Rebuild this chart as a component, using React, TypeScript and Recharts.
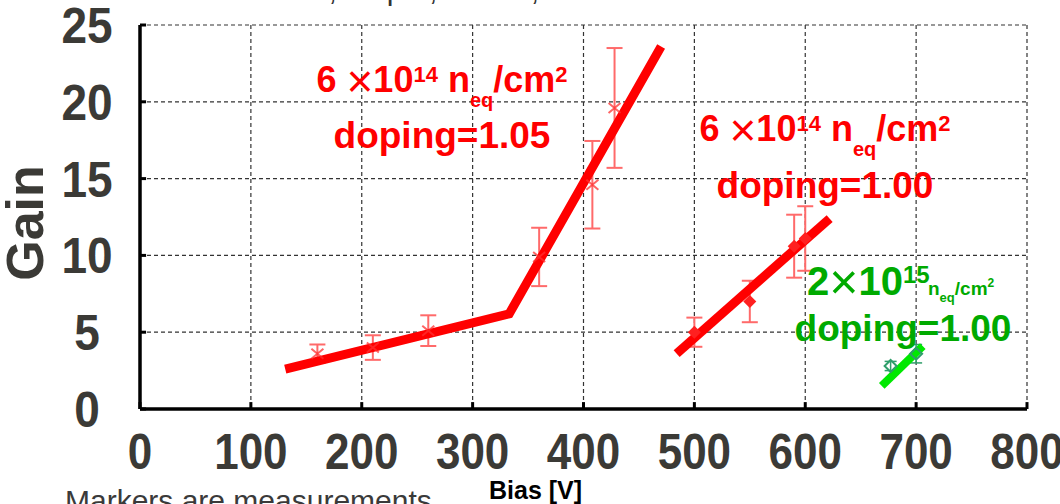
import React from 'react';
import {
  ComposedChart,
  Scatter,
  Line,
  XAxis,
  YAxis,
  CartesianGrid,
  ErrorBar,
  ReferenceLine,
} from 'recharts';

// Axis ticks
const xTicks = [0, 100, 200, 300, 400, 500, 600, 700, 800];
const yTicks = [0, 5, 10, 15, 20, 25];

// 6×10^14 neq/cm², doping = 1.05 : measurements and fit
const biasA = [160, 210, 260, 360, 408, 428];
const gainA = [3.6, 4.0, 5.1, 9.9, 14.6, 19.6];
const errA = [0.6, 0.8, 1.0, 1.9, 2.85, 3.9];
const fitBiasA = [131, 333, 470];
const fitGainA = [2.6, 6.2, 23.6];

// 6×10^14 neq/cm², doping = 1.00 : measurements and fit
const biasB = [500, 550, 590, 600];
const gainB = [5.0, 7.0, 10.6, 11.1];
const errB = [0.95, 1.35, 2.05, 2.1];
const fitBiasB = [484, 622];
const fitGainB = [3.6, 12.4];

// 2×10^15 neq/cm², doping = 1.00 : measurements and fit
const biasC = [677, 700];
const gainC = [2.8, 3.6];
const errC = [0.3, 0.6];
const fitBiasC = [669, 706];
const fitGainC = [1.5, 4.1];

const toPoints = (xs: number[], ys: number[], errs?: number[]) =>
  xs.map((x, i) => ({ x, y: ys[i], err: errs ? errs[i] : 0 }));

const pointsA = toPoints(biasA, gainA, errA);
const pointsB = toPoints(biasB, gainB, errB);
const pointsC = toPoints(biasC, gainC, errC);
const fitA = toPoints(fitBiasA, fitGainA);
const fitB = toPoints(fitBiasB, fitGainB);
const fitC = toPoints(fitBiasC, fitGainC);

const FONT = '"Liberation Sans", Arial, Helvetica, sans-serif';
const TICK_COLOR = '#3b3a36';
const RED = '#ff0000';
const GREEN = '#00aa00';

const XTick = (props: any) => {
  const { x, y, payload } = props;
  return (
    <text
      transform={`translate(${x},${y + 60}) scale(1,1.14)`}
      textAnchor="middle"
      fontSize={44}
      fontWeight="bold"
      fill={TICK_COLOR}
      fontFamily={FONT}
    >
      {payload.value}
    </text>
  );
};

const YTick = (props: any) => {
  const { x, y, payload } = props;
  return (
    <text
      transform={`translate(${x - 53},${y + 18}) scale(1,1.08)`}
      textAnchor="middle"
      fontSize={46}
      fontWeight="bold"
      fill={TICK_COLOR}
      fontFamily={FONT}
    >
      {payload.value}
    </text>
  );
};

const CrossMarker = (props: any) => {
  const { cx, cy } = props;
  if (cx == null || cy == null) return null;
  return (
    <path
      d={`M${cx - 6},${cy - 5}L${cx + 6},${cy + 5}M${cx - 6},${cy + 5}L${cx + 6},${cy - 5}`}
      stroke="#ff3030"
      strokeOpacity={0.75}
      strokeWidth={2}
      fill="none"
    />
  );
};

const FilledDiamond = (props: any) => {
  const { cx, cy } = props;
  if (cx == null || cy == null) return null;
  const r = 6.5;
  return (
    <path
      d={`M${cx},${cy - r}L${cx + r},${cy}L${cx},${cy + r}L${cx - r},${cy}Z`}
      fill="#ff2020"
    />
  );
};

const HollowDiamond = (props: any) => {
  const { cx, cy } = props;
  if (cx == null || cy == null) return null;
  const r = 6;
  return (
    <path
      d={`M${cx},${cy - r}L${cx + r},${cy}L${cx},${cy + r}L${cx - r},${cy}Z`}
      fill="none"
      stroke="#2e9e6a"
      strokeWidth={2}
    />
  );
};

export default function App() {
  return (
    <div
      style={{
        position: 'absolute',
        left: 0,
        top: 0,
        width: 1060,
        height: 504,
        overflow: 'hidden',
        background: '#ffffff',
      }}
    >
      <ComposedChart
        width={1060}
        height={504}
        margin={{ top: 25, right: 33, bottom: 0, left: 0 }}
      >
        <CartesianGrid stroke="#333" strokeDasharray="4 3" strokeWidth={1.2} />
        <XAxis
          type="number"
          dataKey="x"
          domain={[0, 800]}
          ticks={xTicks}
          allowDataOverflow
          height={95}
          tickSize={0}
          tickMargin={0}
          tickLine={false}
          axisLine={{ stroke: '#000', strokeWidth: 3.5 }}
          tick={<XTick />}
          interval={0}
        />
        <YAxis
          type="number"
          dataKey="y"
          domain={[0, 25]}
          ticks={yTicks}
          allowDataOverflow
          width={140}
          tickSize={0}
          tickMargin={0}
          tickLine={false}
          axisLine={{ stroke: '#000', strokeWidth: 3.5 }}
          tick={<YTick />}
          interval={0}
        />

        {/* inward tick marks */}
        {yTicks.map((v) => (
          <ReferenceLine
            key={`yt${v}`}
            segment={[
              { x: 0, y: v },
              { x: 5.5, y: v },
            ]}
            stroke="#000"
            strokeWidth={3}
            ifOverflow="visible"
          />
        ))}
        {xTicks.map((v) => (
          <ReferenceLine
            key={`xt${v}`}
            segment={[
              { x: v, y: 0 },
              { x: v, y: 0.45 },
            ]}
            stroke="#000"
            strokeWidth={3}
            ifOverflow="visible"
          />
        ))}

        <Scatter data={pointsA} shape={<CrossMarker />} isAnimationActive={false}>
          <ErrorBar dataKey="err" direction="y" width={8} stroke="#ff6a6a" strokeWidth={2} />
        </Scatter>
        <Scatter data={pointsB} shape={<FilledDiamond />} isAnimationActive={false}>
          <ErrorBar dataKey="err" direction="y" width={8} stroke="#ff6a6a" strokeWidth={2} />
        </Scatter>
        <Scatter data={pointsC} shape={<HollowDiamond />} isAnimationActive={false}>
          <ErrorBar dataKey="err" direction="y" width={6} stroke="#2e9e6a" strokeWidth={1.5} />
        </Scatter>

        <Line
          data={fitA}
          dataKey="y"
          type="linear"
          stroke={RED}
          strokeWidth={9}
          strokeLinejoin="miter"
          dot={false}
          activeDot={false}
          isAnimationActive={false}
        />
        <Line
          data={fitB}
          dataKey="y"
          type="linear"
          stroke={RED}
          strokeWidth={9}
          dot={false}
          activeDot={false}
          isAnimationActive={false}
        />
        <Line
          data={fitC}
          dataKey="y"
          type="linear"
          stroke="#00e800"
          strokeWidth={8}
          dot={false}
          activeDot={false}
          isAnimationActive={false}
        />
      </ComposedChart>

      <svg
        width={1060}
        height={504}
        style={{ position: 'absolute', left: 0, top: 0, pointerEvents: 'none' }}
        fontFamily={FONT}
      >
        {/* title, mostly above the visible area */}
        <text x={160} y={0} fontSize={30} fill="#333">
          Gain vs Bias, 50 μm, 1 mm², T = -20 °C
        </text>

        {/* y axis title */}
        <text
          transform="translate(43,223) rotate(-90)"
          textAnchor="middle"
          fontSize={52}
          fontWeight="bold"
          fill={TICK_COLOR}
        >
          Gain
        </text>

        {/* 6e14, doping 1.05 */}
        <text x={442} y={92} textAnchor="middle" fontSize={36} fontWeight="bold" fill={RED}>
          6 <tspan fontWeight="normal" fontSize={46} dy={5}>×</tspan>
          <tspan dy={-5}>10</tspan>
          <tspan fontSize={22} dy={-10}>14</tspan>
          <tspan dy={10}> n</tspan>
          <tspan fontSize={20} dy={15}>eq</tspan>
          <tspan dy={-15}>/cm</tspan>
          <tspan fontSize={22} dy={-10}>2</tspan>
        </text>
        <text x={442} y={148} textAnchor="middle" fontSize={37} fontWeight="bold" fill={RED}>
          doping=1.05
        </text>

        {/* 6e14, doping 1.00 */}
        <text x={825} y={141} textAnchor="middle" fontSize={36} fontWeight="bold" fill={RED}>
          6 <tspan fontWeight="normal" fontSize={46} dy={5}>×</tspan>
          <tspan dy={-5}>10</tspan>
          <tspan fontSize={22} dy={-10}>14</tspan>
          <tspan dy={10}> n</tspan>
          <tspan fontSize={20} dy={15}>eq</tspan>
          <tspan dy={-15}>/cm</tspan>
          <tspan fontSize={22} dy={-10}>2</tspan>
        </text>
        <text x={825} y={198} textAnchor="middle" fontSize={37} fontWeight="bold" fill={RED}>
          doping=1.00
        </text>

        {/* 2e15, doping 1.00 */}
        <text x={807} y={295} fontSize={40} fontWeight="bold" fill={GREEN}>
          2<tspan fontWeight="normal" fontSize={50} dy={4}>×</tspan>
          <tspan dy={-4}>10</tspan>
          <tspan fontSize={24} dy={-12}>15</tspan>
        </text>
        <text x={928} y={295} fontSize={19} fontWeight="bold" fill={GREEN}>
          n<tspan fontSize={13} dy={7}>eq</tspan>
          <tspan dy={-7}>/cm</tspan>
          <tspan fontSize={12} dy={-8}>2</tspan>
        </text>
        <text x={903} y={341} textAnchor="middle" fontSize={37} fontWeight="bold" fill={GREEN}>
          doping=1.00
        </text>

        {/* x axis title and footnote */}
        <text x={489} y={499} fontSize={25} fontWeight="bold" fill="#000">
          Bias [V]
        </text>
        <text x={65} y={511} fontSize={30} fill="#3a3a3a">
          Markers are measurements
        </text>
      </svg>
    </div>
  );
}
